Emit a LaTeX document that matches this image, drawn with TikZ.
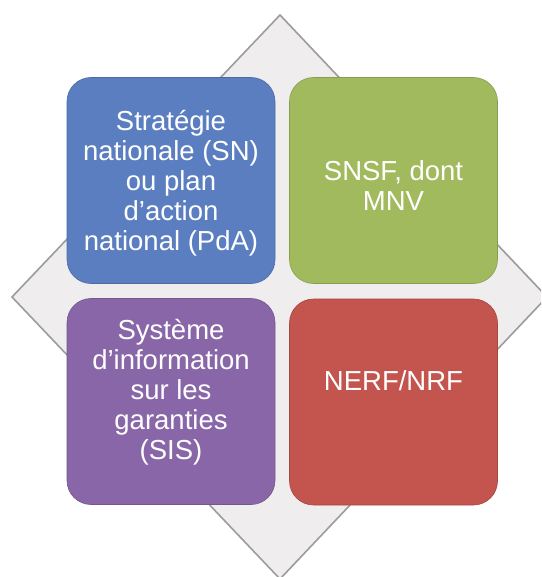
\documentclass[tikz,border=0pt]{standalone}
\usepackage{fontspec}
\setmainfont{Liberation Sans}
\definecolor{diamondfill}{HTML}{EFEDED}
\definecolor{diamondline}{HTML}{9C9C9C}
\definecolor{cblue}{HTML}{5B7EC0}
\definecolor{cgreen}{HTML}{A0BA5D}
\definecolor{cred}{HTML}{C3544E}
\definecolor{cpurple}{HTML}{8866A8}
\tikzset{
  quad/.style={rounded corners=24pt, minimum width=208pt, minimum height=206pt,
    inner sep=0pt, fill=#1, draw=#1!85!black, line width=0.6pt},
  qtext/.style={text=white, align=center, inner sep=0pt,
    font=\fontsize{27.5}{30}\selectfont},
}
\begin{document}
\begin{tikzpicture}[x=1pt,y=-1pt]
  \useasboundingbox (0,0) rectangle (541,577);
  \clip (0,0) rectangle (541,577);
  \fill[white] (0,0) rectangle (541,577);

  % background diamond
  \coordinate (dt) at (280,15);
  \coordinate (dr) at (547,297);
  \coordinate (db) at (280,579);
  \coordinate (dl) at (12,297);
  \draw[fill=diamondfill, draw=diamondline, line width=1.6pt, line join=miter]
    (dt) -- (dr) -- (db) -- (dl) -- cycle;

  % four quadrants
  \node[quad=cblue]   (sn)   at (171,180.5) {};
  \node[quad=cgreen]  (snsf) at (393.5,180.5) {};
  \node[quad=cpurple] (sis)  at (171,401.5) {};
  \node[quad=cred]    (nerf) at (393.5,402) {};

  % labels
  \node[qtext] (snT)   at (171,183)   {Stratégie\\nationale (SN)\\ou plan\\d’action\\national (PdA)};
  \node[qtext] (snsfT) at (393.5,186) {SNSF, dont\\MNV};
  \node[qtext] (sisT)  at (171,392)   {Système\\d’information\\sur les\\garanties\\(SIS)};
  \node[qtext] (nerfT) at (393.5,381) {NERF/NRF};
\end{tikzpicture}
\end{document}
